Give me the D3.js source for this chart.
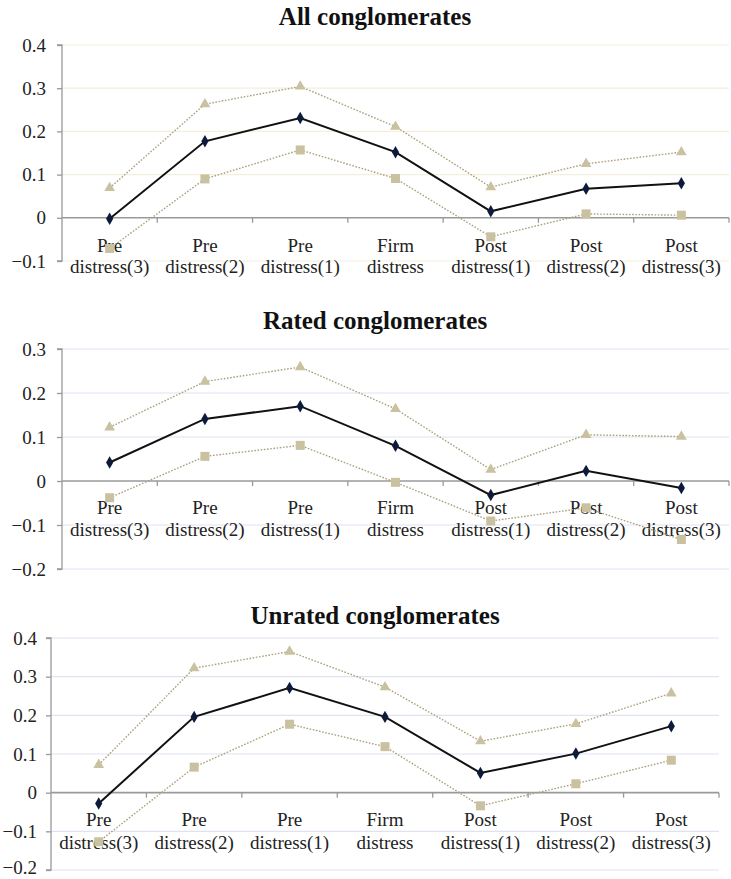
<!DOCTYPE html>
<html><head><meta charset="utf-8">
<script src="https://cdn.jsdelivr.net/npm/d3@7"></script>
<style>body{margin:0;background:#fff}svg{display:block}</style>
</head><body>
<svg id="chart" width="731" height="879"></svg>
<script>
const categories = [["Pre","distress(3)"],["Pre","distress(2)"],["Pre","distress(1)"],["Firm","distress"],["Post","distress(1)"],["Post","distress(2)"],["Post","distress(3)"]];

const titles = ["All conglomerates","Rated conglomerates","Unrated conglomerates"];

const allMean  = [-0.002, 0.177, 0.231, 0.152, 0.015, 0.067, 0.080];
const allUpper = [0.069, 0.263, 0.304, 0.211, 0.071, 0.125, 0.152];
const allLower = [-0.071, 0.090, 0.157, 0.091, -0.044, 0.009, 0.006];

const ratedMean  = [0.042, 0.141, 0.170, 0.080, -0.032, 0.023, -0.016];
const ratedUpper = [0.122, 0.226, 0.259, 0.164, 0.026, 0.105, 0.101];
const ratedLower = [-0.038, 0.056, 0.081, -0.003, -0.091, -0.061, -0.133];

const unratedMean  = [-0.028, 0.196, 0.271, 0.196, 0.051, 0.101, 0.172];
const unratedUpper = [0.072, 0.322, 0.365, 0.273, 0.133, 0.178, 0.257];
const unratedLower = [-0.127, 0.066, 0.177, 0.119, -0.034, 0.023, 0.084];

const yTicks1 = [-0.1, 0, 0.1, 0.2, 0.3, 0.4];
const yTicks2 = [-0.2, -0.1, 0, 0.1, 0.2, 0.3];
const yTicks3 = [-0.2, -0.1, 0, 0.1, 0.2, 0.3, 0.4];

const panels = [
  {title: titles[0], mean: allMean, upper: allUpper, lower: allLower, ticks: yTicks1,
   left: 62, right: 729, top: 45, bottom: 261, titleY: 25, lab1: 252, lab2: 273, grid: "#f3efdb", pad: 11},
  {title: titles[1], mean: ratedMean, upper: ratedUpper, lower: ratedLower, ticks: yTicks2,
   left: 62, right: 729, top: 349, bottom: 569, titleY: 329, lab1: 514, lab2: 536, grid: "#dfe2f1", pad: 11},
  {title: titles[2], mean: unratedMean, upper: unratedUpper, lower: unratedLower, ticks: yTicks3,
   left: 51, right: 719, top: 638, bottom: 870, titleY: 624, lab1: 826, lab2: 849, grid: "#dfe2f1", pad: 9}
];

const svg = d3.select("#chart");
const FONT = '"Liberation Serif"';
const fmt = v => v === 0 ? "0" : d3.format(".1f")(v);

panels.forEach((p, pi) => {
  const g = svg.append("g");
  const idx = d3.range(categories.length);
  const x = d3.scaleBand().domain(idx).range([p.left, p.right]).padding(0);
  const y = d3.scaleLinear().domain(d3.extent(p.ticks)).range([p.bottom, p.top]);
  const cx = i => x(i) + x.bandwidth() / 2;

  // title
  g.append("text").attr("x", 375).attr("y", p.titleY)
    .attr("text-anchor", "middle").style("font-family", FONT)
    .attr("font-weight", "bold").attr("font-size", 25).attr("fill", "#111")
    .text(p.title);

  // gridlines
  g.selectAll("line.grid").data(p.ticks.filter(t => t !== 0)).enter().append("line")
    .attr("x1", p.left).attr("x2", p.right)
    .attr("y1", d => y(d)).attr("y2", d => y(d))
    .attr("stroke", p.grid).attr("stroke-width", 1.2);

  // y axis
  const yAxis = d3.axisLeft(y).tickValues(p.ticks).tickFormat(fmt).tickSize(5).tickPadding(p.pad);
  const ya = g.append("g").attr("transform", `translate(${p.left},0)`).call(yAxis);
  ya.attr("font-family", null);
  ya.select(".domain").attr("stroke", "#999").attr("stroke-width", 1.3).attr("d", `M-5,${p.top}H0V${p.bottom}H-5`);
  ya.selectAll(".tick line").attr("stroke", "#999").attr("stroke-width", 1.3);
  ya.selectAll(".tick text").style("font-family", FONT).attr("font-size", 19).attr("fill", "#222")
    .attr("dy", d => (pi === 2 && d === -0.2) ? "0.2em" : "0.32em");

  // zero axis line with boundary ticks
  const y0 = y(0);
  g.append("line").attr("x1", p.left).attr("x2", p.right).attr("y1", y0).attr("y2", y0)
    .attr("stroke", "#9a9a9a").attr("stroke-width", 1.6);
  g.selectAll("line.bt").data(d3.range(1, categories.length + 1)).enter().append("line")
    .attr("x1", d => x(d - 1) + x.bandwidth()).attr("x2", d => x(d - 1) + x.bandwidth())
    .attr("y1", y0).attr("y2", y0 + 5).attr("stroke", "#9a9a9a").attr("stroke-width", 1.3);

  // category labels
  const lab = g.selectAll("text.cat").data(categories).enter().append("text")
    .attr("text-anchor", "middle").style("font-family", FONT).attr("font-size", 19).attr("fill", "#222");
  lab.append("tspan").attr("x", (d, i) => cx(i)).attr("y", p.lab1).text(d => d[0]);
  lab.append("tspan").attr("x", (d, i) => cx(i)).attr("y", p.lab2).text(d => d[1]);

  const line = d3.line().x((d, i) => cx(i)).y(d => y(d));

  // bounds
  [p.upper, p.lower].forEach(arr => {
    g.append("path").datum(arr).attr("d", line).attr("fill", "none")
      .attr("stroke", "#aaa27c").attr("stroke-width", 1.4).attr("stroke-dasharray", "1.6,1.6");
  });
  g.selectAll("path.tri").data(p.upper).enter().append("path")
    .attr("d", d3.symbol(d3.symbolTriangle, 50))
    .attr("transform", (d, i) => `translate(${cx(i)},${y(d)})`)
    .attr("fill", "#c9c1a0");
  g.selectAll("rect.sq").data(p.lower).enter().append("rect")
    .attr("x", (d, i) => cx(i) - 4.5).attr("y", d => y(d) - 4.5)
    .attr("width", 9).attr("height", 9).attr("fill", "#c9c1a0");

  // mean
  g.append("path").datum(p.mean).attr("d", line).attr("fill", "none")
    .attr("stroke", "#111").attr("stroke-width", 2);
  g.selectAll("path.dia").data(p.mean).enter().append("path")
    .attr("d", d3.symbol(d3.symbolDiamond, 45))
    .attr("transform", (d, i) => `translate(${cx(i)},${y(d)})`)
    .attr("fill", "#0d1a3a");
});
</script>
</body></html>
